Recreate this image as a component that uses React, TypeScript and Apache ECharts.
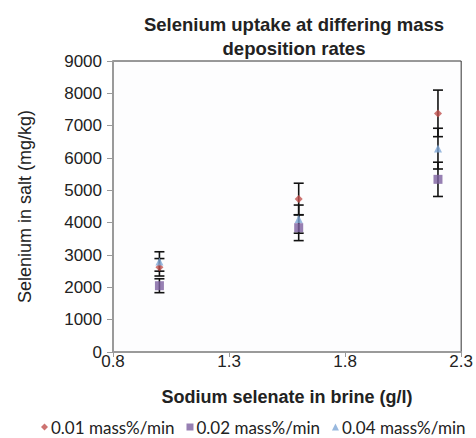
import React, { useEffect, useRef } from "react";
import * as echarts from "echarts";

// Sodium selenate concentration in brine (g/l)
const concentrations = [1.0, 1.6, 2.2];

// Selenium in salt (mg/kg) and ± error per deposition rate
const rate001 = [2620, 4730, 7380];
const err001 = [270, 490, 720];
const rate002 = [2050, 3845, 5340];
const err002 = [215, 400, 530];
const rate004 = [2800, 4110, 6290];
const err004 = [300, 435, 630];

const seriesNames = ["0.01 mass%/min", "0.02 mass%/min", "0.04 mass%/min"];
const colors = ["#c0504d", "#7d60a0", "#7ea6d6"];

const FONT = "Liberation Sans, Arial, sans-serif";

const errorBarSeries = (values: number[], errs: number[]) => ({
  type: "custom",
  silent: true,
  z: 1,
  data: concentrations.map((x, i) => [x, values[i] - errs[i], values[i] + errs[i]]),
  renderItem: (params: any, api: any) => {
    const x = api.value(0);
    const lo = api.coord([x, api.value(1)]);
    const hi = api.coord([x, api.value(2)]);
    const half = 5;
    const style = { stroke: "#111", lineWidth: 1.6 };
    return {
      type: "group",
      children: [
        { type: "line", shape: { x1: lo[0], y1: lo[1], x2: hi[0], y2: hi[1] }, style },
        { type: "line", shape: { x1: lo[0] - half, y1: lo[1], x2: lo[0] + half, y2: lo[1] }, style },
        { type: "line", shape: { x1: hi[0] - half, y1: hi[1], x2: hi[0] + half, y2: hi[1] }, style },
      ],
    };
  },
});

const scatterSeries = (name: string, values: number[], symbol: string, size: number, color: string) => ({
  name,
  type: "scatter",
  z: 3,
  symbol,
  symbolSize: size,
  itemStyle: { color },
  data: concentrations.map((x, i) => [x, values[i]]),
});

export default function App() {
  const ref = useRef<HTMLDivElement>(null);

  useEffect(() => {
    if (!ref.current) return;
    const chart = echarts.init(ref.current, undefined, { renderer: "svg" });
    chart.setOption({
      animation: false,
      backgroundColor: "#ffffff",
      title: {
        text: "Selenium uptake at differing mass\ndeposition rates",
        left: 289,
        top: 7,
        textAlign: "center",
        textStyle: {
          fontFamily: FONT,
          fontWeight: "bold",
          fontSize: 18.5,
          lineHeight: 24,
          color: "#222",
        },
      },
      legend: {
        data: [
          { name: seriesNames[0], icon: "diamond" },
          { name: seriesNames[1], icon: "rect" },
          { name: seriesNames[2], icon: "triangle" },
        ],
        left: 41,
        top: 418,
        padding: 0,
        itemWidth: 7,
        itemHeight: 7,
        itemGap: 12,
        textStyle: {
          fontFamily: "Lato, sans-serif",
          fontSize: 17,
          lineHeight: 18,
          color: "#222",
          padding: [0, 0, 0, -2],
        },
      },
      grid: {
        left: 113,
        right: 11,
        top: 61,
        bottom: 86,
        show: true,
        borderColor: "#333",
        borderWidth: 1,
        backgroundColor: "#fdfdfe",
      },
      xAxis: {
        type: "value",
        min: 0.8,
        max: 2.3,
        interval: 0.5,
        name: "Sodium selenate in brine (g/l)",
        nameLocation: "middle",
        nameGap: 36,
        nameTextStyle: {
          fontFamily: FONT,
          fontWeight: "bold",
          fontSize: 18,
          color: "#222",
        },
        axisLine: { lineStyle: { color: "#9a9a9a", width: 2 } },
        axisTick: { show: true, length: 5, lineStyle: { color: "#9a9a9a" } },
        axisLabel: {
          fontFamily: FONT,
          fontSize: 17,
          color: "#222",
          margin: 1,
          formatter: (v: number) => v.toFixed(1),
        },
        splitLine: { show: false },
      },
      yAxis: {
        type: "value",
        min: 0,
        max: 9000,
        interval: 1000,
        name: "Selenium in salt (mg/kg)",
        nameLocation: "middle",
        nameGap: 79,
        nameTextStyle: {
          fontFamily: FONT,
          fontSize: 18,
          color: "#222",
        },
        axisLine: { show: true, lineStyle: { color: "#9a9a9a", width: 2 } },
        axisTick: { show: true, length: 6, lineStyle: { color: "#9a9a9a" } },
        axisLabel: {
          fontFamily: FONT,
          fontSize: 17,
          color: "#222",
          margin: 11,
          formatter: (v: number) => String(v),
        },
        splitLine: { show: false },
      },
      series: [
        errorBarSeries(rate001, err001),
        errorBarSeries(rate002, err002),
        errorBarSeries(rate004, err004),
        scatterSeries(seriesNames[0], rate001, "diamond", 8, colors[0]),
        scatterSeries(seriesNames[1], rate002, "rect", 9, colors[1]),
        scatterSeries(seriesNames[2], rate004, "triangle", 8, colors[2]),
      ],
    });
    return () => chart.dispose();
  }, []);

  return (
    <div
      ref={ref}
      style={{ position: "fixed", left: 0, top: 0, width: 476, height: 438 }}
    />
  );
}
